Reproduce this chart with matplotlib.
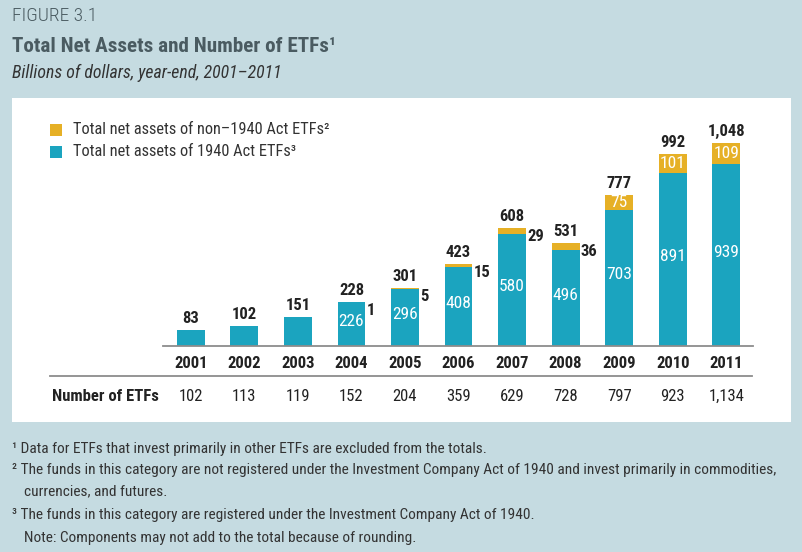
import numpy as np
import matplotlib
matplotlib.use("Agg")
import matplotlib.pyplot as plt
from matplotlib import font_manager
from matplotlib.patches import Rectangle

# data (billions of dollars)
years = ["2001", "2002", "2003", "2004", "2005", "2006", "2007", "2008", "2009", "2010", "2011"]
act1940 = [83, 102, 150, 226, 296, 408, 580, 496, 703, 891, 939]
non1940 = [0, 0, 1, 1, 5, 15, 29, 36, 75, 101, 109]
totals = [83, 102, 151, 228, 301, 423, 608, 531, 777, 992, 1048]
n_etfs = ["102", "113", "119", "152", "204", "359", "629", "728", "797", "923", "1,134"]

BG = "#c5dbe1"
BLUE = "#1ba4bf"
GOLD = "#e6b026"
HEAD = "#4a5b61"

# pick a condensed face if one is installed
names = {f.name for f in font_manager.fontManager.ttflist}
cond = None
for cand in ["Roboto Condensed", "Liberation Sans Narrow", "Open Sans Condensed"]:
    if cand in names:
        cond = cand
        break
if cond:
    plt.rcParams["font.family"] = [cond, "DejaVu Sans"]
else:
    plt.rcParams["font.family"] = ["DejaVu Sans"]
    plt.rcParams["font.stretch"] = "condensed"

W, H = 802, 552
fig = plt.figure(figsize=(W / 100, H / 100), dpi=100, facecolor=BG)

def fx(px):
    return px / W

def fy(py):
    return 1 - py / H

# white panel
fig.patches.append(Rectangle((fx(12), fy(422)), fx(779), (422 - 98) / H,
                             transform=fig.transFigure, facecolor="white", edgecolor="none", zorder=-5))

# header texts
fig.text(fx(12), fy(16), "FIGURE 3.1", fontsize=14, fontweight="light", color=HEAD,
         va="center", ha="left")
fig.text(fx(12), fy(46), "Total Net Assets and Number of ETFs\u00b9", fontsize=15.2,
         fontweight="bold", color=HEAD, va="center", ha="left")
fig.text(fx(12), fy(73), "Billions of dollars, year-end, 2001\u20132011", fontsize=12.8,
         style="italic", color="#333333", va="center", ha="left")

# bar axes
ax = fig.add_axes([fx(163), fy(346), fx(590), (346 - 110) / H])
ax.set_facecolor("none")
x = np.arange(len(years))
bw = 0.52
ax.bar(x, act1940, width=bw, color=BLUE, linewidth=0)
ax.bar(x, non1940, width=bw, bottom=act1940, color=GOLD, linewidth=0)
ax.set_xlim(-0.52, 10.5)
ax.set_ylim(0, 1218)
for s in ["top", "right", "left"]:
    ax.spines[s].set_visible(False)
ax.spines["bottom"].set_color("#8c8c8c")
ax.spines["bottom"].set_linewidth(1.3)
ax.set_yticks([])
ax.set_xticks(x)
ax.set_xticklabels(years, fontsize=12, fontweight="bold", color="#222222")
ax.tick_params(axis="x", length=0, pad=7)

for i in range(len(years)):
    ax.annotate(f"{totals[i]:,}", (x[i], act1940[i] + non1940[i]), xytext=(0, 3),
                textcoords="offset points", ha="center", va="bottom",
                fontsize=12, fontweight="bold", color="#222222")
    if totals[i] >= 200:
        ax.text(x[i], act1940[i] / 2 + 15, str(act1940[i]), ha="center", va="center",
                fontsize=12.5, color="white")
        if non1940[i] >= 50:
            ax.text(x[i], act1940[i] + non1940[i] / 2, str(non1940[i]), ha="center",
                    va="center", fontsize=12.5, color="white")
        else:
            ax.annotate(str(non1940[i]), (x[i] + bw / 2, act1940[i] + non1940[i]),
                        xytext=(1, -1), textcoords="offset points", ha="left", va="top",
                        fontsize=12, fontweight="bold", color="#222222")

# number of ETFs row
fig.add_artist(plt.Line2D([fx(50), fx(752)], [fy(376), fy(376)], color="#8c8c8c", lw=1.3))
fig.text(fx(52), fy(401), "Number of ETFs", fontsize=12, fontweight="bold",
         color="#222222", ha="left", va="baseline")
for i in range(len(years)):
    px = ax.transData.transform((x[i], 0))[0] / W
    fig.text(px, fy(401), n_etfs[i], fontsize=12, color="#222222", ha="center", va="baseline")

# legend
fig.patches.append(Rectangle((fx(50), fy(136)), fx(12), 12 / H, transform=fig.transFigure,
                             facecolor=GOLD, edgecolor="none"))
fig.patches.append(Rectangle((fx(50), fy(158)), fx(12), 12 / H, transform=fig.transFigure,
                             facecolor=BLUE, edgecolor="none"))
fig.text(fx(73), fy(130), "Total net assets of non\u20131940 Act ETFs\u00b2", fontsize=11.8,
         color="#333333", va="center", ha="left")
fig.text(fx(73), fy(152), "Total net assets of 1940 Act ETFs\u00b3", fontsize=11.8,
         color="#333333", va="center", ha="left")

# footnotes
foot = "#333333"
fs = 11.1
fig.text(fx(12), fy(449), "\u00b9 Data for ETFs that invest primarily in other ETFs are excluded from the totals.",
         fontsize=fs, color=foot, va="center", ha="left")
fig.text(fx(12), fy(470), "\u00b2 The funds in this category are not registered under the Investment Company Act of 1940 "
         "and invest primarily in commodities,", fontsize=fs, color=foot, va="center", ha="left")
fig.text(fx(24), fy(491), "currencies, and futures.", fontsize=fs, color=foot, va="center", ha="left")
fig.text(fx(12), fy(515), "\u00b3 The funds in this category are registered under the Investment Company Act of 1940.",
         fontsize=fs, color=foot, va="center", ha="left")
fig.text(fx(24), fy(538), "Note: Components may not add to the total because of rounding.",
         fontsize=fs, color=foot, va="center", ha="left")

fig.savefig("out.png", dpi=100, facecolor=BG)
